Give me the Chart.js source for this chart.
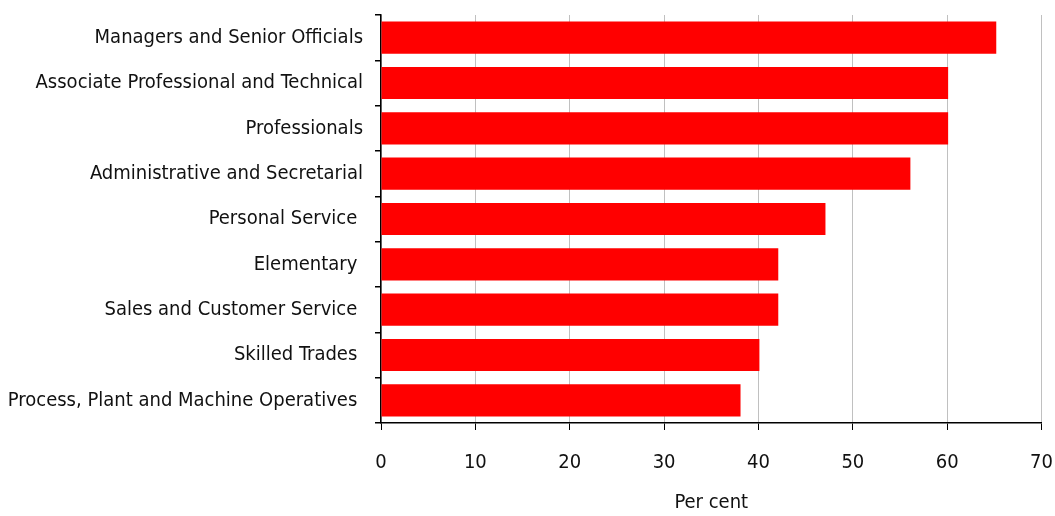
<!DOCTYPE html>
<html><head><meta charset="utf-8">
<style>html,body{margin:0;padding:0;background:#fff;}#wrap{width:1055px;height:516px;}</style>
<script src="https://cdn.jsdelivr.net/npm/chart.js@4/dist/chart.umd.min.js"></script>
</head><body><div id="wrap"><canvas id="c" width="1055" height="516"></canvas></div>
<script>
const categories = ["Managers and Senior Officials","Associate Professional and Technical","Professionals","Administrative and Secretarial","Personal Service ","Elementary ","Sales and Customer Service ","Skilled Trades ","Process, Plant and Machine Operatives "];
const values = [65.2, 60.1, 60.1, 56.1, 47.1, 42.1, 42.1, 40.1, 38.1];
const xTicks = [0,10,20,30,40,50,60,70];
const FONT = "'Liberation Sans Narrow', 'Arial Narrow', 'DejaVu Sans Condensed', sans-serif";
new Chart(document.getElementById('c'), {
  type: 'bar',
  data: { labels: categories, datasets: [{ data: values, backgroundColor: '#ff0000', borderColor: '#ff0000', borderWidth: 0, barPercentage: 0.71, categoryPercentage: 1 }] },
  options: {
    indexAxis: 'y', responsive: false, animation: false,
    layout: { padding: { top: 15, right: 0, left: 0, bottom: 0 } },
    plugins: { legend: { display: false }, tooltip: { enabled: false } },
    scales: {
      x: {
        min: 0, max: 70,
        afterBuildTicks: s => { s.ticks = xTicks.map(v => ({ value: v })); },
        afterFit: s => { s.height = 93; },
        grid: { color: '#c0c0c0', lineWidth: 1, tickColor: '#000', tickLength: 7 },
        border: { color: '#000', width: 1.5 },
        ticks: { color: '#111', font: { family: FONT, size: 20, lineHeight: 3.1 }, padding: 2 },
        title: { display: true, text: 'Per cent', color: '#111', font: { family: FONT, size: 20 }, padding: { top: 4, bottom: 1 } }
      },
      y: {
        afterFit: s => { s.width = 381; },
        grid: { offset: true, drawOnChartArea: false, tickColor: '#000', tickLength: 6, lineWidth: 1.5 },
        border: { color: '#000', width: 1.5 },
        ticks: { color: '#111', font: { family: FONT, size: 20, lineHeight: 0.25 }, padding: 12 }
      }
    }
  }
});
</script></body></html>
